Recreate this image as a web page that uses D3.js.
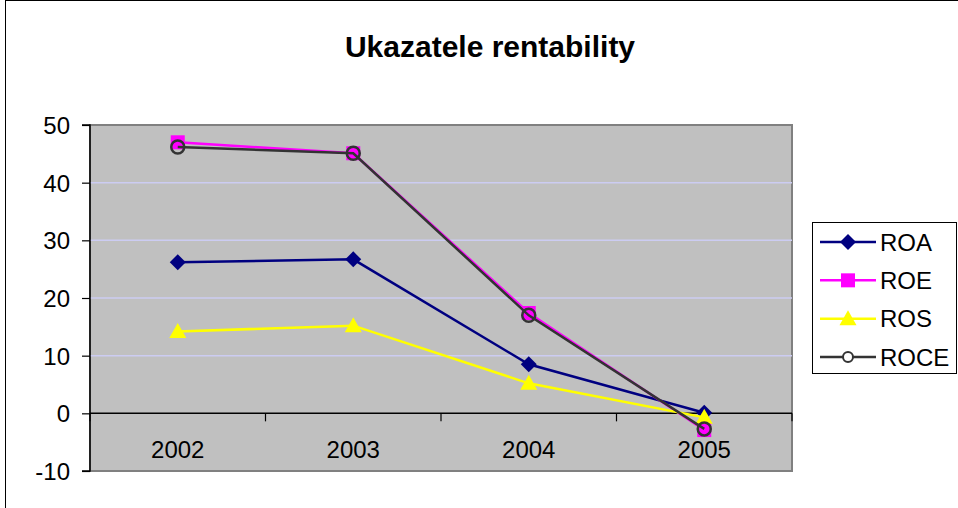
<!DOCTYPE html>
<html><head><meta charset="utf-8">
<script src="https://cdn.jsdelivr.net/npm/d3@7"></script>
<style>html,body{margin:0;padding:0;background:#fff;overflow:hidden}</style>
</head><body>
<svg id="c" width="958" height="508"></svg>
<script>
const title = "Ukazatele rentability";
const categories = ["2002", "2003", "2004", "2005"];
const seriesNames = ["ROA", "ROE", "ROS", "ROCE"];
const roa = [26.2, 26.7, 8.5, 0.1];
const roe = [47.0, 45.1, 17.4, -2.9];
const ros = [14.2, 15.2, 5.2, -0.7];
const roce = [46.2, 45.1, 17.0, -2.7];
const yTicks = [-10, 0, 10, 20, 30, 40, 50];

const colors = {ROA: "#000080", ROE: "#FF00FF", ROS: "#FFFF00", ROCE: "#333333"};
const values = {ROA: roa, ROE: roe, ROS: ros, ROCE: roce};
const markers = {ROA: "diamond", ROE: "square", ROS: "triangle", ROCE: "circle"};

const svg = d3.select("#c");
const font = "'Liberation Sans', Arial, sans-serif";

// outer chart border
svg.append("rect").attr("x", 5.5).attr("y", 0.5).attr("width", 1000).attr("height", 600)
  .attr("fill", "#fff").attr("stroke", "#000").attr("stroke-width", 1);

const L = 90, R = 792, T = 125, B = 471;
const x = d3.scaleBand().domain(categories).range([L, R]).paddingInner(0).paddingOuter(0);
const y = d3.scaleLinear().domain([-10, 50]).range([B, T]);

// plot area
svg.append("rect").attr("x", L).attr("y", T).attr("width", R - L).attr("height", B - T)
  .attr("fill", "#C0C0C0").attr("stroke", "#808080").attr("stroke-width", 2);

// gridlines
svg.append("g").selectAll("line").data(yTicks.filter(d => d !== 0 && d !== 50 && d !== -10)).join("line")
  .attr("x1", L).attr("x2", R).attr("y1", d => y(d)).attr("y2", d => y(d))
  .attr("stroke", "#CCCCF2").attr("stroke-width", 1.5);

// y axis
const yAxis = d3.axisLeft(y).tickValues(yTicks).tickSize(8).tickPadding(12).tickFormat(d => String(d));
const gy = svg.append("g").attr("transform", `translate(${L},0)`).call(yAxis);
gy.select(".domain").attr("stroke", "#000").attr("stroke-width", 1.5).attr("d", `M-8,${T}H0V${B}H-8`);
gy.selectAll(".tick line").attr("stroke", "#000").attr("stroke-width", 1.2);
gy.selectAll(".tick text").attr("font-family", font).attr("font-size", 24).attr("fill", "#000")
  .attr("dy", "0.35em");

// x axis at y=0
const xAxis = d3.axisBottom(x).tickSize(0).tickPadding(0);
const gx = svg.append("g").attr("transform", `translate(0,${y(0)})`).call(xAxis);
gx.select(".domain").attr("stroke", "#000").attr("stroke-width", 1.5).attr("d", `M${L},0H${R}`);
gx.selectAll(".tick text").attr("font-family", font).attr("font-size", 24).attr("fill", "#000")
  .attr("y", 0).attr("dy", 0).attr("transform", `translate(0,${458 - y(0)})`);
// category boundary ticks
const bounds = categories.map(c => x(c)).concat([x(categories[categories.length - 1]) + x.bandwidth()]);
gx.append("g").selectAll("line").data(bounds).join("line")
  .attr("x1", d => d).attr("x2", d => d).attr("y1", 0).attr("y2", 8)
  .attr("stroke", "#000").attr("stroke-width", 1.2);

function drawMarker(g, type, cx, cy, color) {
  if (type === "diamond") {
    g.append("path").attr("d", `M${cx},${cy - 8}L${cx + 8},${cy}L${cx},${cy + 8}L${cx - 8},${cy}Z`)
      .attr("fill", color);
  } else if (type === "square") {
    g.append("rect").attr("x", cx - 7).attr("y", cy - 7).attr("width", 14).attr("height", 14).attr("fill", color);
  } else if (type === "triangle") {
    g.append("path").attr("d", `M${cx},${cy - 8.5}L${cx + 8.5},${cy + 6.5}L${cx - 8.5},${cy + 6.5}Z`).attr("fill", color);
  } else if (type === "circle") {
    g.append("circle").attr("cx", cx).attr("cy", cy).attr("r", 6.5).attr("fill", "none")
      .attr("stroke", color).attr("stroke-width", 2.5);
  }
}

const cx = c => x(c) + x.bandwidth() / 2;
const line = d3.line().x((d, i) => cx(categories[i])).y(d => y(d));

seriesNames.forEach(name => {
  const g = svg.append("g");
  g.append("path").datum(values[name]).attr("d", line).attr("fill", "none")
    .attr("stroke", colors[name]).attr("stroke-width", 2.5);
  values[name].forEach((v, i) => drawMarker(g, markers[name], cx(categories[i]), y(v), colors[name]));
});

// title
svg.append("text").attr("x", 490).attr("y", 57).attr("text-anchor", "middle")
  .attr("font-family", font).attr("font-size", 30).attr("font-weight", "bold").text(title);

// legend
const lg = svg.append("g");
lg.append("rect").attr("x", 812.5).attr("y", 222.5).attr("width", 144).attr("height", 151)
  .attr("fill", "#fff").attr("stroke", "#000").attr("stroke-width", 1);
const legY = d3.scalePoint().domain(seriesNames).range([242, 357]);
seriesNames.forEach(name => {
  const yy = legY(name);
  lg.append("line").attr("x1", 820).attr("x2", 876).attr("y1", yy).attr("y2", yy)
    .attr("stroke", colors[name]).attr("stroke-width", 2.5);
  if (markers[name] === "circle") {
    lg.append("circle").attr("cx", 848).attr("cy", yy).attr("r", 5).attr("fill", "#fff")
      .attr("stroke", colors[name]).attr("stroke-width", 2);
  } else {
    drawMarker(lg, markers[name], 848, yy, colors[name]);
  }
  lg.append("text").attr("x", 880).attr("y", yy + 8.5).attr("font-family", font).attr("font-size", 24)
    .attr("fill", "#000").text(name);
});
</script>
</body></html>
